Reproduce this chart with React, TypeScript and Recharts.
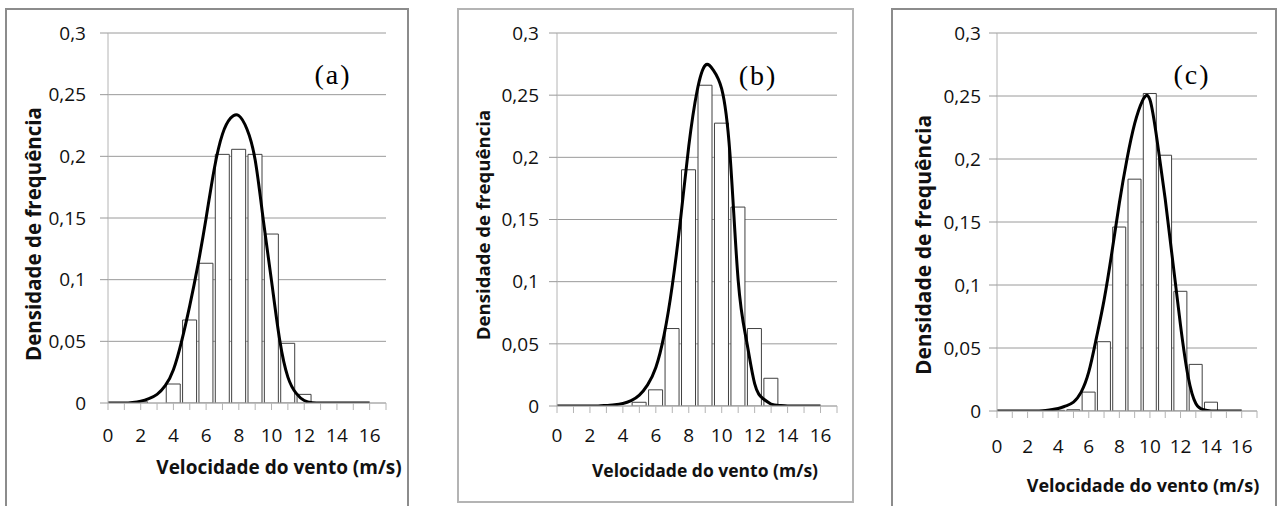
import React from "react";
import {
  ComposedChart,
  Bar,
  Line,
  XAxis,
  YAxis,
  CartesianGrid,
} from "recharts";

// ---------- data ----------
const BAR_X = [0, 1, 2, 3, 4, 5, 6, 7, 8, 9, 10, 11, 12, 13, 14, 15, 16];
const LINE_X = [
  0, 0.5, 1, 1.5, 2, 2.5, 3, 3.5, 4, 4.5, 5, 5.5, 6, 6.5, 7, 7.5, 8, 8.5, 9,
  9.5, 10, 10.5, 11, 11.5, 12, 12.5, 13, 13.5, 14, 14.5, 15, 15.5, 16,
];
const X_TICKS = [0, 1, 2, 3, 4, 5, 6, 7, 8, 9, 10, 11, 12, 13, 14, 15, 16, 17];
const X_LABELS = [0, 2, 4, 6, 8, 10, 12, 14, 16];
const Y_TICKS = [0, 0.05, 0.1, 0.15, 0.2, 0.25, 0.3];

const BARS_A = [0, 0, 0.001, 0, 0.0154, 0.0673, 0.1133, 0.2016, 0.2057, 0.2016, 0.137, 0.0484, 0.007, 0, 0, 0, 0];
const BARS_B = [0, 0, 0, 0, 0, 0.003, 0.013, 0.0623, 0.19, 0.258, 0.2275, 0.16, 0.0623, 0.0223, 0, 0, 0];
const BARS_C = [0, 0, 0, 0, 0.0005, 0.001, 0.015, 0.055, 0.146, 0.184, 0.252, 0.203, 0.095, 0.037, 0.007, 0, 0];

const CURVE_A = [
  0, 0, 0, 0.0005, 0.0015, 0.0035, 0.007, 0.014, 0.027, 0.05, 0.079, 0.112,
  0.15, 0.19, 0.218, 0.231, 0.233, 0.222, 0.197, 0.148, 0.099, 0.051, 0.021,
  0.008, 0.002, 0.0003, 0, 0, 0, 0, 0, 0, 0,
];
const CURVE_B = [
  0, 0, 0, 0, 0, 0, 0.0005, 0.001, 0.002, 0.0043, 0.0088, 0.017, 0.031, 0.057,
  0.097, 0.15, 0.209, 0.253, 0.274, 0.27, 0.255, 0.203, 0.101, 0.053, 0.018,
  0.006, 0.0016, 0.0004, 0, 0, 0, 0, 0,
];
const CURVE_C = [
  0, 0, 0, 0, 0, 0, 0.0003, 0.001, 0.002, 0.004, 0.007, 0.015, 0.031, 0.058,
  0.088, 0.125, 0.165, 0.2, 0.228, 0.246, 0.247, 0.212, 0.168, 0.118, 0.068,
  0.027, 0.006, 0.001, 0, 0, 0, 0, 0,
];

const PANEL_LABELS = ["(a)", "(b)", "(c)"];
const X_TITLE = "Velocidade do vento (m/s)";
const Y_TITLE = "Densidade de frequência";

// ---------- layout ----------
type Panel = {
  bars: number[];
  curve: number[];
  label: string;
  frame: { l: number; t: number; r: number; b: number; color: string };
  plot: { L: number; R: number; T: number; B: number };
  barSize: number;
  yGap: number;
  xLabelOff: number;
  xTitle: { x: number; y: number; size: number };
  yTitle: { x: number; y: number; size: number };
  tag: { x: number; y: number };
};

const PANELS: Panel[] = [
  {
    bars: BARS_A,
    curve: CURVE_A,
    label: PANEL_LABELS[0],
    frame: { l: 5, t: 8, r: 409, b: 520, color: "#8c8c8c" },
    plot: { L: 108, R: 386, T: 33, B: 403 },
    barSize: 14,
    yGap: 14,
    xLabelOff: 25,
    xTitle: { x: 279, y: 467, size: 19 },
    yTitle: { x: 33, y: 234, size: 20.5 },
    tag: { x: 333, y: 75 },
  },
  {
    bars: BARS_B,
    curve: CURVE_B,
    label: PANEL_LABELS[1],
    frame: { l: 457, t: 8, r: 854, b: 503, color: "#b4b4b4" },
    plot: { L: 557, R: 837, T: 33, B: 406 },
    barSize: 14,
    yGap: 10,
    xLabelOff: 22,
    xTitle: { x: 705, y: 470, size: 17.5 },
    yTitle: { x: 482, y: 225, size: 18.6 },
    tag: { x: 758, y: 76 },
  },
  {
    bars: BARS_C,
    curve: CURVE_C,
    label: PANEL_LABELS[2],
    frame: { l: 891, t: 8, r: 1277, b: 520, color: "#8c8c8c" },
    plot: { L: 997, R: 1257, T: 33, B: 411 },
    barSize: 13,
    yGap: 8,
    xLabelOff: 28,
    xTitle: { x: 1143, y: 485, size: 18 },
    yTitle: { x: 923, y: 245, size: 21 },
    tag: { x: 1192, y: 75 },
  },
];

const TICK_FONT = "'Open Sans', 'Noto Sans', sans-serif";
const TICK_SIZE = 19;
const Y_AXIS_W = 60;
const X_AXIS_H = 30;
const GRID = "#9a9a9a";
const AXIS = "#b4b4b4";

const fmt = (v: number) => String(v).replace(".", ",");

function makeXTick(off: number) {
  return (props: any) => {
    const { x, y, payload } = props;
    if (!X_LABELS.includes(payload.value)) return <g />;
    return (
      <text
        x={x}
        y={y + off}
        textAnchor="middle"
        dy="0.36em"
        fontFamily={TICK_FONT}
        fontSize={TICK_SIZE}
        fill="#111"
      >
        {payload.value}
      </text>
    );
  };
}

function PanelChart({ p }: { p: Panel }) {
  const cx = p.frame.l + 2;
  const cw = p.frame.r - p.frame.l - 4;
  const H = 506;
  const barData = BAR_X.map((x, i) => ({ x, v: p.bars[i] }));
  const lineData = LINE_X.map((x, i) => ({ x, v: p.curve[i] }));
  const margin = {
    left: p.plot.L - cx - Y_AXIS_W,
    right: cx + cw - p.plot.R,
    top: p.plot.T,
    bottom: H - p.plot.B - X_AXIS_H,
  };
  return (
    <>
      <div
        style={{
          position: "absolute",
          left: p.frame.l,
          top: p.frame.t,
          width: p.frame.r - p.frame.l,
          height: p.frame.b - p.frame.t,
          border: `2px solid ${p.frame.color}`,
          boxSizing: "border-box",
          background: "#fff",
        }}
      />
      <div style={{ position: "absolute", left: cx, top: 0 }}>
        <ComposedChart width={cw} height={H} data={barData} margin={margin}>
          <CartesianGrid
            horizontal
            vertical={false}
            stroke={GRID}
            strokeWidth={1}
          />
          <XAxis
            xAxisId="bars"
            dataKey="x"
            type="number"
            domain={[0, 17]}
            ticks={X_TICKS}
            interval={0}
            height={X_AXIS_H}
            tickSize={7}
            tickMargin={0}
            axisLine={{ stroke: AXIS, strokeWidth: 1 }}
            tickLine={{ stroke: AXIS, strokeWidth: 1 }}
            tick={makeXTick(p.xLabelOff)}
            allowDataOverflow
          />
          <XAxis
            xAxisId="curve"
            dataKey="x"
            type="number"
            domain={[0, 17]}
            hide
            allowDataOverflow
          />
          <YAxis
            type="number"
            domain={[0, 0.3]}
            ticks={Y_TICKS}
            interval={0}
            width={Y_AXIS_W}
            tickSize={8}
            tickMargin={p.yGap}
            axisLine={{ stroke: AXIS, strokeWidth: 1 }}
            tickLine={{ stroke: GRID, strokeWidth: 1 }}
            tickFormatter={fmt}
            tick={{ fontFamily: TICK_FONT, fontSize: TICK_SIZE, fill: "#111" }}
            allowDataOverflow
          />
          <Bar
            xAxisId="bars"
            dataKey="v"
            barSize={p.barSize}
            fill="#ffffff"
            stroke="#404040"
            strokeWidth={1}
            isAnimationActive={false}
          />
          <Line
            xAxisId="curve"
            data={lineData}
            dataKey="v"
            type="natural"
            stroke="#000"
            strokeWidth={3}
            dot={false}
            activeDot={false}
            isAnimationActive={false}
          />
        </ComposedChart>
      </div>
      <div
        style={{
          position: "absolute",
          left: p.xTitle.x,
          top: p.xTitle.y,
          transform: "translate(-50%, -50%)",
          whiteSpace: "nowrap",
          fontFamily: TICK_FONT,
          fontWeight: 700,
          fontSize: p.xTitle.size,
          color: "#111",
        }}
      >
        {X_TITLE}
      </div>
      <div
        style={{
          position: "absolute",
          left: p.yTitle.x,
          top: p.yTitle.y,
          transform: "translate(-50%, -50%) rotate(-90deg)",
          whiteSpace: "nowrap",
          fontFamily: TICK_FONT,
          fontWeight: 700,
          fontSize: p.yTitle.size,
          color: "#111",
        }}
      >
        {Y_TITLE}
      </div>
      <div
        style={{
          position: "absolute",
          left: p.tag.x,
          top: p.tag.y,
          transform: "translate(-50%, -50%)",
          whiteSpace: "nowrap",
          fontFamily: "'Liberation Serif', 'Times New Roman', serif",
          fontSize: 28,
          letterSpacing: 2,
          color: "#000",
        }}
      >
        {p.label}
      </div>
    </>
  );
}

export default function App() {
  return (
    <div
      style={{
        position: "absolute",
        left: 0,
        top: 0,
        width: 1284,
        height: 506,
        overflow: "hidden",
        background: "#fff",
      }}
    >
      {PANELS.map((p, i) => (
        <PanelChart key={i} p={p} />
      ))}
    </div>
  );
}
